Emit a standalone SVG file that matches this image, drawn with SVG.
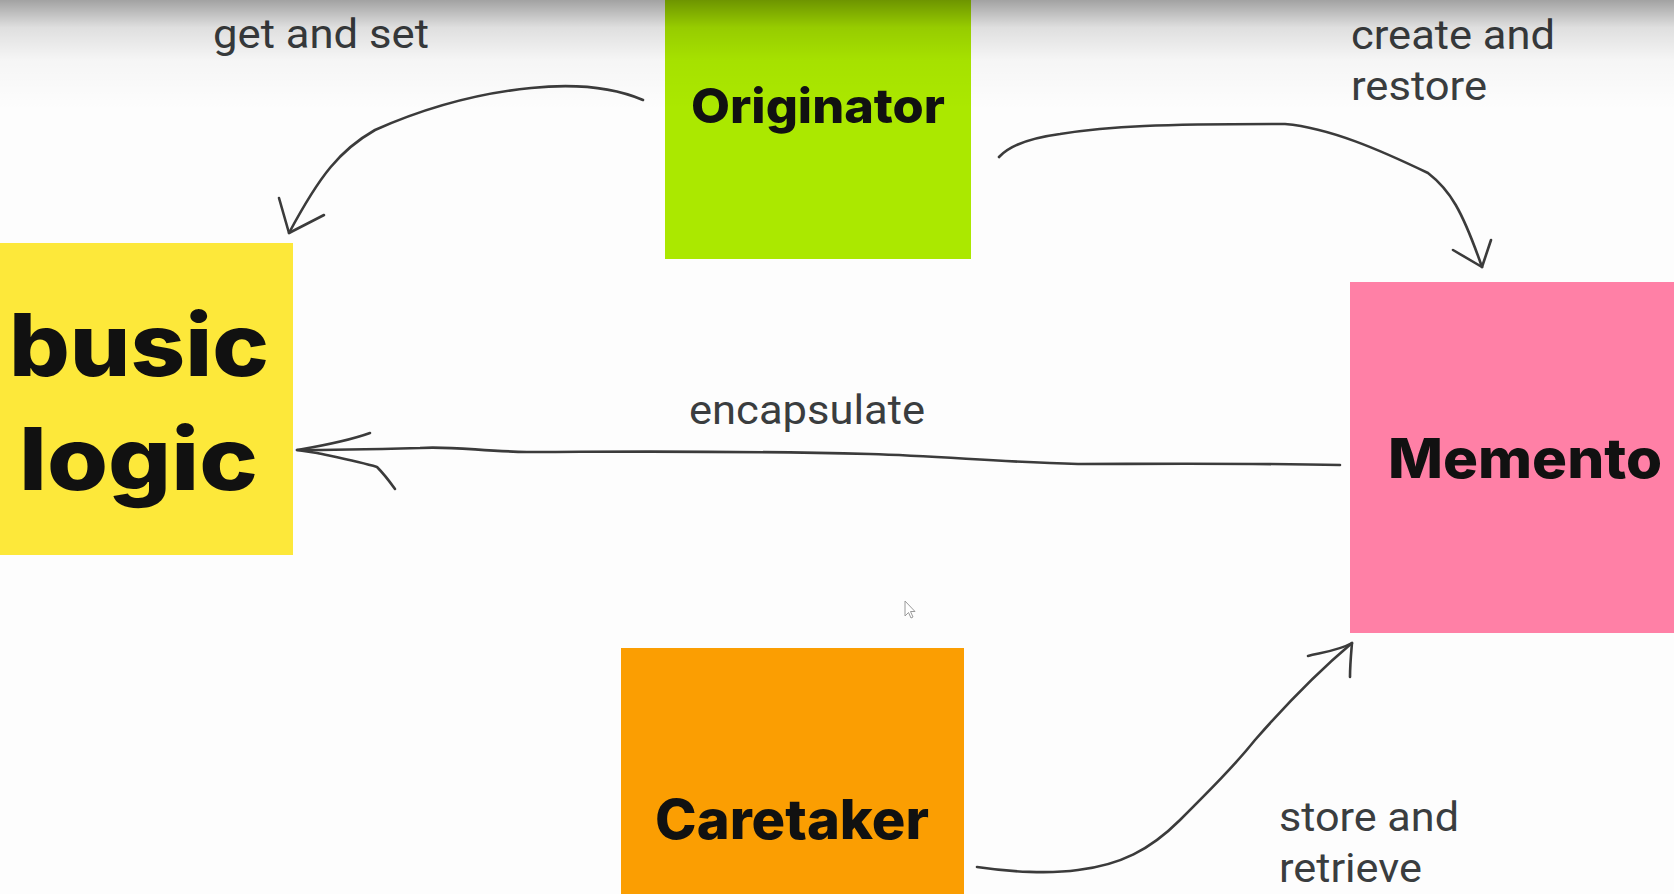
<svg xmlns="http://www.w3.org/2000/svg" width="1674" height="894" viewBox="0 0 1674 894">
<defs>
<linearGradient id="shade" x1="0" y1="0" x2="0" y2="1">
<stop offset="0" stop-color="#000" stop-opacity="0.36"/>
<stop offset="0.25" stop-color="#000" stop-opacity="0.12"/>
<stop offset="0.55" stop-color="#000" stop-opacity="0.03"/>
<stop offset="1" stop-color="#000" stop-opacity="0"/>
</linearGradient>
<style>
.lbl{font-family:Roboto,"Liberation Sans",sans-serif;font-size:40px;fill:#3a3d3f}
.node{font-family:Inter,"Liberation Sans",sans-serif;font-weight:800;fill:#111}
.ink{fill:none;stroke:#3b3b3b;stroke-width:2.6;stroke-linecap:round;stroke-linejoin:round}
</style>
</defs>
<rect width="1674" height="894" fill="#fdfdfd"/>
<g id="busic-logic">
<rect x="0" y="243" width="293" height="312" fill="#fde83a"/>
<text class="node" x="9" y="376" font-size="86" textLength="260" lengthAdjust="spacingAndGlyphs">busic</text>
<text class="node" x="19" y="490" font-size="86" textLength="239" lengthAdjust="spacingAndGlyphs">logic</text>
</g>
<g id="originator">
<rect x="665" y="0" width="306" height="259" fill="#abe800"/>
<text class="node" x="691" y="123" font-size="48" textLength="254" lengthAdjust="spacingAndGlyphs">Originator</text>
</g>
<g id="memento">
<rect x="1350" y="282" width="324" height="351" fill="#ff80a6"/>
<text class="node" x="1388" y="478" font-size="55" textLength="274" lengthAdjust="spacingAndGlyphs">Memento</text>
</g>
<g id="caretaker">
<rect x="621" y="648" width="343" height="246" fill="#fb9e02"/>
<text class="node" x="655" y="839" font-size="55" textLength="274" lengthAdjust="spacingAndGlyphs">Caretaker</text>
</g>
<g id="connectors">
<path class="ink" d="M643,100 C610,86 570,84 531,88 C470,94 420,110 375,130 C340,150 320,175 289,233"/>
<path class="ink" d="M279,198 L289,233 L324,215"/>
<path class="ink" d="M999,157 C1010,145 1030,138 1060,134 C1110,126 1160,124 1285,124 C1330,128 1380,150 1428,173 C1450,190 1462,210 1482,267"/>
<path class="ink" d="M1453,250 L1482,267 L1491,240"/>
<path class="ink" d="M1340,465 C1250,463 1140,464 1078,464 C1000,462 940,456 870,454 C700,450 600,452 527,452 C480,451 450,446 420,448 C380,449 330,450 297,450"/>
<path class="ink" d="M370,433 C345,442 320,446 297,450 L317,453 C340,458 360,462 377,467 C385,475 390,482 395,489"/>
<path class="ink" d="M977,867 C1010,872 1050,874 1078,870 C1120,865 1150,850 1180,820 C1210,790 1235,765 1255,740 C1290,700 1320,670 1352,643"/>
<path class="ink" d="M1308,656 C1325,652 1340,650 1352,643 C1351,655 1350,665 1350,677"/>
</g>
<g id="labels">
<text class="lbl" x="213" y="48" textLength="216" lengthAdjust="spacingAndGlyphs">get and set</text>
<text class="lbl" x="1351" y="49" textLength="204" lengthAdjust="spacingAndGlyphs">create and</text>
<text class="lbl" x="1351" y="100" textLength="136" lengthAdjust="spacingAndGlyphs">restore</text>
<text class="lbl" x="689" y="424" textLength="236" lengthAdjust="spacingAndGlyphs">encapsulate</text>
<text class="lbl" x="1279" y="831" textLength="180" lengthAdjust="spacingAndGlyphs">store and</text>
<text class="lbl" x="1279" y="882" textLength="143" lengthAdjust="spacingAndGlyphs">retrieve</text>
</g>
<path d="M905,601 L905,616 L908.5,612.5 L911,618 L913,617 L910.5,611.5 L915,611.5 Z" fill="#fff" stroke="#9a9a9a" stroke-width="1"/>
<rect x="0" y="0" width="1674" height="110" fill="url(#shade)"/>
</svg>
